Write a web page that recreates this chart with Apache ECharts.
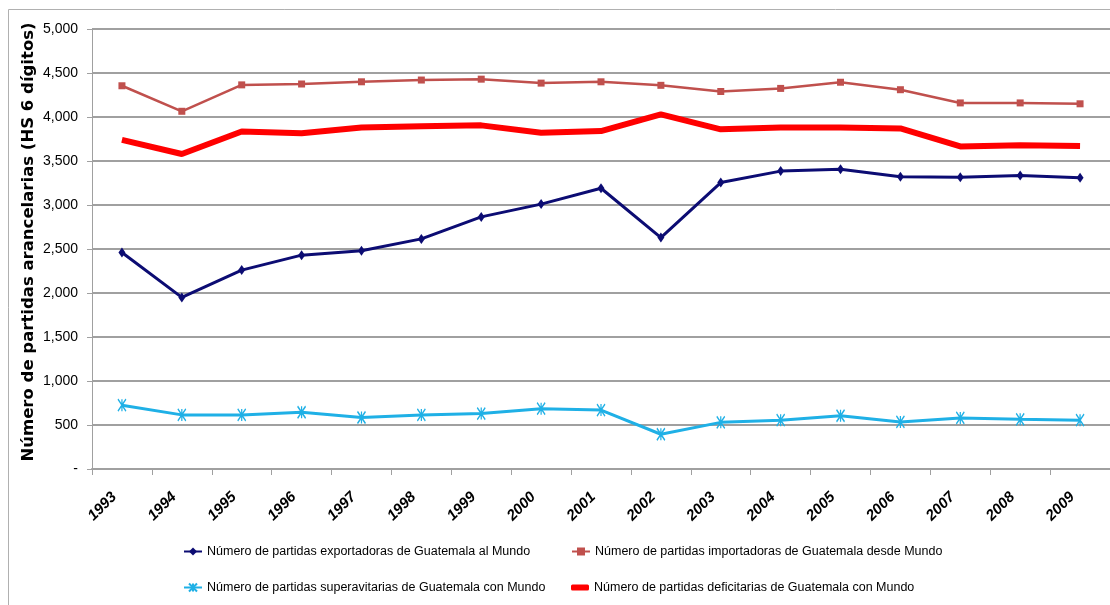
<!DOCTYPE html>
<html>
<head>
<meta charset="utf-8">
<script src="https://cdn.jsdelivr.net/npm/echarts@6/dist/echarts.min.js"></script>
<style>
  html, body { margin: 0; padding: 0; background: #ffffff; }
  #chart { width: 1110px; height: 605px; }
</style>
</head>
<body>
<div id="chart"></div>
<script>
// años
var years = ['1993', '1994', '1995', '1996', '1997', '1998', '1999', '2000', '2001',
  '2002', '2003', '2004', '2005', '2006', '2007', '2008', '2009'];

// series
var exportadoras = [2460, 1950, 2260, 2430, 2480, 2615, 2865, 3010, 3190,
  2630, 3255, 3385, 3405, 3320, 3315, 3335, 3310];
var importadoras = [4355, 4065, 4365, 4375, 4400, 4420, 4430, 4385, 4400,
  4360, 4290, 4325, 4395, 4310, 4160, 4160, 4150];
var superavitarias = [725, 615, 615, 645, 585, 615, 630, 685, 670,
  395, 530, 555, 605, 535, 580, 565, 555];
var deficitarias = [3740, 3580, 3835, 3815, 3880, 3895, 3905, 3820, 3840,
  4030, 3860, 3880, 3880, 3870, 3665, 3680, 3670];

var yTicks = { min: 0, max: 5000, step: 500 };

var names = [
  'Número de partidas exportadoras de Guatemala al Mundo',
  'Número de partidas importadoras de Guatemala desde Mundo',
  'Número de partidas superavitarias de Guatemala con Mundo',
  'Número de partidas deficitarias de Guatemala con Mundo'
];

var chart = echarts.init(document.getElementById('chart'));

var legendText = {
  fontFamily: "'Liberation Sans', sans-serif",
  fontSize: 12.5,
  color: '#000'
};

function oneLegend(item, left, top, h) {
  return {
    data: [item],
    left: left,
    top: top,
    itemWidth: 18,
    itemHeight: h || 10,
    itemGap: 0,
    padding: 0,
    textStyle: legendText
  };
}

chart.setOption({
  animation: false,
  graphic: [{
    type: 'rect',
    shape: { x: 8.5, y: 9.5, width: 1120, height: 620 },
    style: { fill: 'none', stroke: '#b0b0b0', lineWidth: 1 },
    silent: true
  }],
  grid: { left: 92, top: 29, width: 1024, bottom: 136 },
  legend: [
    oneLegend(names[0], 183, 545),
    oneLegend(names[1], 571, 545),
    oneLegend(names[2], 183, 581),
    oneLegend({ name: names[3], icon: 'roundRect' }, 571, 581, 6)
  ],
  xAxis: {
    type: 'category',
    data: years,
    boundaryGap: true,
    axisLine: { lineStyle: { color: '#a0a0a0', width: 2 } },
    axisTick: { show: true, length: 6, lineStyle: { color: '#a0a0a0', width: 1 } },
    axisLabel: {
      interval: 0,
      rotate: 45,
      margin: 18,
      padding: [0, 11, 0, 0],
      fontFamily: "'Liberation Sans', sans-serif",
      fontStyle: 'italic',
      fontWeight: 'bold',
      fontSize: 15,
      color: '#000'
    }
  },
  yAxis: {
    type: 'value',
    min: yTicks.min,
    max: yTicks.max,
    interval: yTicks.step,
    name: 'Número de partidas arancelarias (HS 6 dígitos)',
    nameLocation: 'middle',
    nameGap: 55,
    nameMoveOverlap: false,
    nameTextStyle: {
      fontFamily: "'DejaVu Sans', sans-serif",
      fontWeight: 'bold',
      fontSize: 16.5,
      color: '#000',
      padding: [0, 0, 0, 14]
    },
    axisLine: { show: true, lineStyle: { color: '#a0a0a0', width: 1 } },
    axisTick: { show: true, length: 5, lineStyle: { color: '#a0a0a0' } },
    splitLine: { lineStyle: { color: '#a0a0a0', width: 2 } },
    axisLabel: {
      margin: 14,
      fontFamily: "'Liberation Sans', sans-serif",
      fontSize: 14,
      color: '#000',
      formatter: function (v) {
        return v === 0 ? '-' : v.toLocaleString('en-US');
      }
    }
  },
  series: [
    {
      name: names[0],
      type: 'line',
      data: exportadoras,
      symbol: 'diamond',
      symbolSize: [7, 10],
      itemStyle: { color: '#0c0c73' },
      lineStyle: { color: '#0c0c73', width: 3 },
      z: 4
    },
    {
      name: names[1],
      type: 'line',
      data: importadoras,
      symbol: 'rect',
      symbolSize: 7,
      itemStyle: { color: '#c0504d' },
      lineStyle: { color: '#c0504d', width: 2.5 },
      z: 3
    },
    {
      name: names[2],
      type: 'line',
      data: superavitarias,
      symbol: 'path://M0,0L8,12M8,0L0,12M4,0L4,12',
      symbolSize: [8, 12],
      itemStyle: { color: 'rgba(0,0,0,0)', borderColor: '#1fb0e6', borderWidth: 1.5 },
      lineStyle: { color: '#1fb0e6', width: 3 },
      z: 3
    },
    {
      name: names[3],
      type: 'line',
      data: deficitarias,
      symbol: 'none',
      itemStyle: { color: '#ff0000' },
      lineStyle: { color: '#ff0000', width: 6 },
      z: 2
    }
  ]
});
</script>
</body>
</html>
